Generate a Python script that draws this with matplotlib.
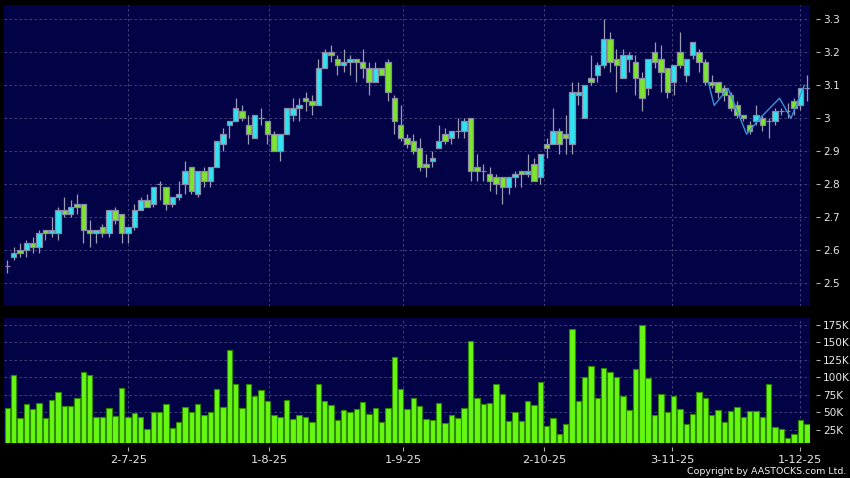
import numpy as np
import matplotlib
matplotlib.use('Agg')
import matplotlib.pyplot as plt
from matplotlib.ticker import FixedLocator, FuncFormatter

# 日足データ (2025-06-04 ~ 2025-12-02)
opens = [2.55, 2.58, 2.60, 2.60, 2.62, 2.61, 2.66, 2.65, 2.65, 2.72,
         2.71, 2.74, 2.74, 2.66, 2.65, 2.67, 2.65, 2.72, 2.71, 2.65,
         2.67, 2.72, 2.75, 2.74, 2.80, 2.79, 2.74, 2.76, 2.80, 2.85,
         2.77, 2.84, 2.81, 2.85, 2.92, 2.98, 2.99, 3.02, 2.98, 2.94,
         3.00, 2.99, 2.95, 2.90, 2.95, 3.01, 3.03, 3.06, 3.05, 3.04,
         3.15, 3.20, 3.18, 3.16, 3.17, 3.18, 3.17, 3.15, 3.11, 3.15,
         3.17, 3.06, 2.98, 2.94, 2.93, 2.91, 2.86, 2.87, 2.91, 2.95,
         2.94, 2.96, 2.96, 3.00, 2.85, 2.84, 2.83, 2.82, 2.82, 2.79,
         2.82, 2.84, 2.83, 2.86, 2.82, 2.92, 2.92, 2.96, 2.95, 2.92,
         3.07, 3.00, 3.12, 3.13, 3.16, 3.24, 3.18, 3.12, 3.18, 3.17,
         3.12, 3.09, 3.20, 3.18, 3.15, 3.11, 3.20, 3.13, 3.19, 3.20,
         3.17, 3.11, 3.11, 3.09, 3.07, 3.04, 3.01, 2.98, 2.99, 3.00,
         2.99, 2.99, 3.02, 3.02, 3.05, 3.04, 3.09]
highs = [2.57, 2.61, 2.62, 2.63, 2.64, 2.66, 2.66, 2.70, 2.73, 2.76,
         2.75, 2.77, 2.74, 2.69, 2.66, 2.68, 2.72, 2.73, 2.71, 2.67,
         2.74, 2.76, 2.77, 2.79, 2.81, 2.79, 2.76, 2.81, 2.87, 2.85,
         2.84, 2.85, 2.85, 2.93, 2.97, 2.99, 3.06, 3.04, 3.01, 3.01,
         3.03, 2.99, 2.96, 2.95, 3.03, 3.06, 3.06, 3.08, 3.07, 3.18,
         3.21, 3.22, 3.19, 3.21, 3.19, 3.18, 3.21, 3.17, 3.17, 3.15,
         3.18, 3.07, 3.04, 2.95, 2.95, 2.94, 2.89, 2.90, 2.98, 2.97,
         2.96, 3.00, 3.00, 3.00, 2.89, 2.86, 2.85, 2.83, 2.82, 2.82,
         2.84, 2.84, 2.89, 2.88, 2.89, 2.94, 3.03, 2.97, 3.01, 3.11,
         3.11, 3.10, 3.19, 3.17, 3.30, 3.26, 3.21, 3.21, 3.20, 3.19,
         3.14, 3.18, 3.23, 3.22, 3.15, 3.16, 3.26, 3.18, 3.23, 3.21,
         3.18, 3.13, 3.11, 3.10, 3.08, 3.05, 3.01, 2.99, 3.04, 3.01,
         3.00, 3.03, 3.03, 3.045, 3.06, 3.09, 3.13]
lows = [2.53, 2.57, 2.58, 2.58, 2.59, 2.59, 2.63, 2.64, 2.63, 2.70,
        2.70, 2.71, 2.62, 2.61, 2.62, 2.64, 2.64, 2.68, 2.62, 2.62,
        2.66, 2.72, 2.73, 2.73, 2.75, 2.72, 2.73, 2.75, 2.77, 2.77,
        2.76, 2.79, 2.79, 2.85, 2.90, 2.94, 2.99, 2.99, 2.92, 2.94,
        2.98, 2.92, 2.90, 2.87, 2.95, 2.99, 2.99, 3.02, 3.01, 3.04,
        3.15, 3.17, 3.13, 3.14, 3.13, 3.11, 3.12, 3.07, 3.11, 3.13,
        3.05, 2.95, 2.93, 2.91, 2.89, 2.84, 2.82, 2.85, 2.91, 2.92,
        2.92, 2.94, 2.94, 2.81, 2.81, 2.81, 2.78, 2.77, 2.74, 2.77,
        2.79, 2.79, 2.82, 2.81, 2.80, 2.88, 2.92, 2.89, 2.89, 2.89,
        3.04, 3.00, 3.10, 3.11, 3.15, 3.14, 3.08, 3.12, 3.14, 3.07,
        3.02, 3.07, 3.15, 3.08, 3.06, 3.07, 3.15, 3.11, 3.18, 3.14,
        3.10, 3.09, 3.06, 3.05, 3.02, 3.00, 2.99, 2.95, 2.98, 2.96,
        2.94, 2.98, 3.01, 3.00, 3.01, 3.025, 3.05]
closes = [2.55, 2.59, 2.59, 2.62, 2.61, 2.65, 2.65, 2.66, 2.72, 2.71,
          2.73, 2.73, 2.66, 2.65, 2.66, 2.65, 2.72, 2.69, 2.65, 2.67,
          2.72, 2.75, 2.73, 2.79, 2.80, 2.74, 2.76, 2.77, 2.84, 2.78,
          2.84, 2.81, 2.85, 2.93, 2.95, 2.99, 3.03, 3.00, 2.95, 3.01,
          3.00, 2.95, 2.90, 2.95, 3.03, 3.03, 3.04, 3.05, 3.04, 3.15,
          3.20, 3.19, 3.16, 3.17, 3.18, 3.17, 3.15, 3.11, 3.15, 3.13,
          3.08, 2.99, 2.94, 2.92, 2.90, 2.85, 2.85, 2.88, 2.93, 2.93,
          2.96, 2.96, 2.99, 2.84, 2.84, 2.84, 2.81, 2.80, 2.79, 2.82,
          2.83, 2.83, 2.84, 2.81, 2.89, 2.91, 2.96, 2.92, 2.94, 3.08,
          3.08, 3.10, 3.11, 3.16, 3.24, 3.17, 3.16, 3.19, 3.19, 3.12,
          3.06, 3.18, 3.17, 3.14, 3.08, 3.16, 3.16, 3.18, 3.23, 3.17,
          3.11, 3.10, 3.08, 3.07, 3.03, 3.01, 3.00, 2.96, 3.01, 2.98,
          2.99, 3.02, 3.02, 3.02, 3.03, 3.09, 3.09]
# 出来高 (千株)
volumes = [56, 103, 42, 62, 55, 64, 42, 68, 79, 59,
           59, 70, 108, 103, 43, 44, 56, 45, 85, 43,
           49, 44, 27, 51, 51, 62, 28, 37, 58, 51,
           62, 46, 50, 84, 58, 139, 90, 56, 90, 73,
           82, 67, 46, 43, 68, 41, 46, 43, 36, 90,
           66, 60, 40, 54, 50, 55, 65, 48, 56, 37,
           56, 129, 84, 55, 71, 59, 41, 39, 64, 35,
           47, 42, 57, 152, 70, 62, 63, 91, 77, 38,
           51, 38, 67, 61, 94, 31, 42, 19, 33, 169,
           67, 101, 116, 71, 114, 108, 100, 74, 54, 112,
           175, 99, 46, 76, 51, 73, 55, 34, 48, 79,
           71, 46, 54, 36, 52, 58, 44, 52, 52, 44,
           91, 29, 26, 14, 19, 40, 33]

# 右端の折れ線
zig_x = [110.5, 111.4, 113.6, 116.5, 118.6, 121.7, 123.5, 125.6]
zig_y = [3.107, 3.038, 3.090, 2.951, 2.999, 3.060, 2.999, 3.099]

date_labels = ['2-7-25', '1-8-25', '1-9-25', '2-10-25', '3-11-25', '1-12-25']
date_pos = [19.07, 41.29, 62.41, 84.59, 104.81, 124.93]
price_ticks = [2.5, 2.6, 2.7, 2.8, 2.9, 3.0, 3.1, 3.2, 3.3]
vol_ticks = [25, 50, 75, 100, 125, 150, 175]

o = np.array(opens)
h = np.array(highs)
l = np.array(lows)
c = np.array(closes)
x = np.arange(len(o))

navy = '#020247'
up_col = '#2ee4f2'
dn_col = '#7de52c'
grid_kw = dict(color='#4c4c82', linewidth=0.6, linestyle=(0, (3, 3)))

fig = plt.figure(figsize=(8.5, 4.78), dpi=100, facecolor='black')
ax1 = fig.add_axes([4/850, 1-306/478, 806/850, 301/478])
ax2 = fig.add_axes([4/850, 1-443.3/478, 806/850, 125.3/478], sharex=ax1)

for ax in (ax1, ax2):
    ax.set_facecolor(navy)
    for s in ax.spines.values():
        s.set_visible(False)
    ax.spines['right'].set_position(('outward', 4))
    ax.spines['bottom'].set_position(('outward', 3))
    ax.yaxis.tick_right()
    ax.tick_params(axis='both', colors='#b0b0b0', labelcolor='#e8e8e8',
                   length=3, width=0.8, labelsize=7.6, direction='out')
    ax.tick_params(axis='x', labelsize=8.2, pad=2.5)
    ax.tick_params(axis='y', pad=2.5)
    ax.xaxis.set_major_locator(FixedLocator(date_pos))
    ax.set_axisbelow(True)
    ax.grid(True, **grid_kw)

# ローソク足
cols = np.where(c > o, up_col, dn_col)
ax1.vlines(x, l, h, color='#9a9ab0', linewidth=0.9, zorder=2)
ax1.bar(x, np.abs(c - o), bottom=np.minimum(o, c), width=0.85,
        color=cols, edgecolor='#8a8aa6', linewidth=0.9, zorder=3)
ax1.plot(zig_x, zig_y, color='#3d8fd8', linewidth=1.0, zorder=4)

ax1.set_xlim(-0.52, 126.5)
ax1.set_ylim(2.4303, 3.3424)
ax1.yaxis.set_major_locator(FixedLocator(price_ticks))
ax1.yaxis.set_major_formatter(FuncFormatter(lambda v, p: f'{v:g}'))
ax1.tick_params(axis='x', which='both', bottom=False, labelbottom=False)

# 出来高
ax2.bar(x, volumes, width=0.85, color='#66f712', edgecolor='#2f8a00',
        linewidth=0.8, zorder=3)
ax2.set_ylim(6.1, 184.6)
ax2.yaxis.set_major_locator(FixedLocator(vol_ticks))
ax2.yaxis.set_major_formatter(FuncFormatter(lambda v, p: f'{v:g}K'))
ax2.set_xticklabels(date_labels)

fig.text(846/850, 1-472/478, 'Copyright by AASTOCKS.com Ltd.', color='#f0f0f0',
         fontsize=6.8, ha='right', va='center')

fig.savefig('out.png', dpi=100, facecolor='black')
